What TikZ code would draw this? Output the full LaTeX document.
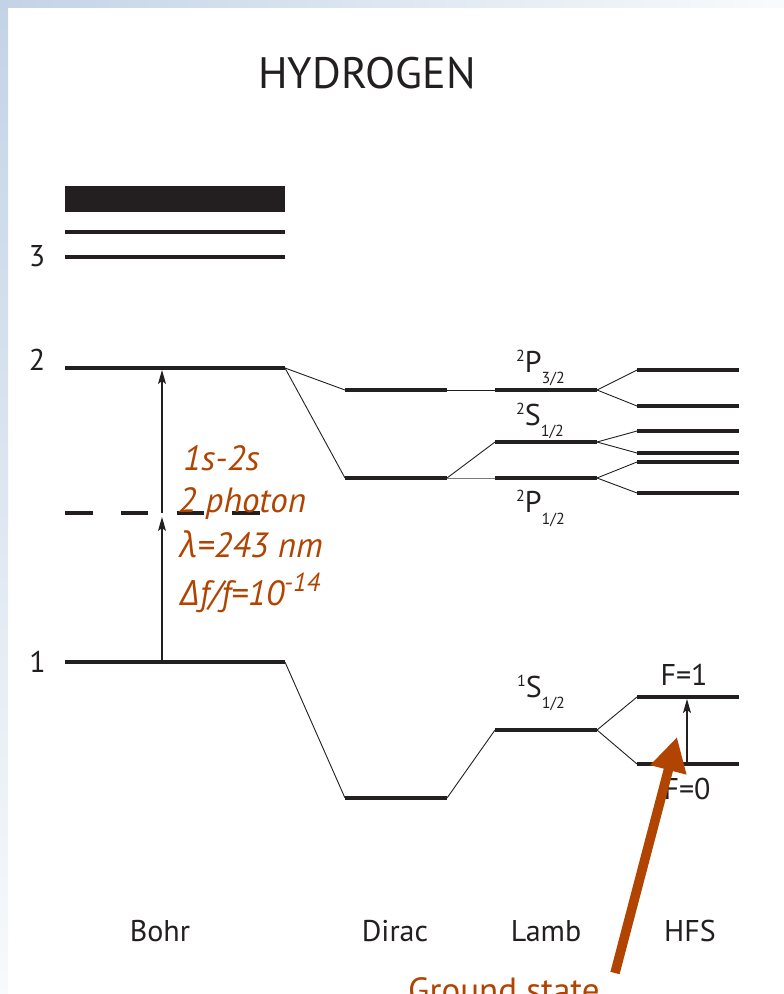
\documentclass[tikz,border=0pt]{standalone}
\usepackage{fontspec}
\setmainfont{PT Sans}
\newfontfamily\grk{Open Sans}
\usetikzlibrary{arrows.meta}
\definecolor{orng}{RGB}{176,68,0}
\definecolor{bgblue}{RGB}{195,211,230}
\definecolor{ink}{RGB}{35,31,32}
\newcommand\mklevel[4]{%
  \coordinate (#1-l) at (#2,#4);
  \coordinate (#1-r) at (#3,#4);
}
\begin{document}
\begin{tikzpicture}[x=1pt,y=-1pt,
  lvl/.style={line width=3.3pt, draw=ink},
  conn/.style={line width=0.9pt, draw=ink},
  lbl/.style={font=\fontsize{30}{30}\selectfont, text=ink, anchor=base, inner sep=0pt},
  sublbl/.style={font=\fontsize{30}{30}\selectfont, text=ink, anchor=base west, inner sep=0pt},
  olbl/.style={font=\fontsize{35}{35}\selectfont\itshape, text=orng, anchor=base west, inner sep=0pt},
  thinarrow/.style={line width=1.2pt, draw=ink, -{Stealth[length=14pt,width=8pt,inset=3pt]}},
  bigarrow/.style={line width=9.5pt, draw=orng, -{Triangle[length=34pt,width=35pt]}}
]
\useasboundingbox (0,0) rectangle (784,994);
% background
\fill[white] (0,0) rectangle (784,994);
\shade[top color=bgblue, bottom color=bgblue!12] (0,0) rectangle (8,994);
\shade[left color=bgblue, right color=bgblue!10] (0,0) rectangle (784,7);
\fill[bgblue] (0,0) rectangle (8,7);

% level coordinates
\mklevel{B3c}{65}{285}{232}
\mklevel{B3}{65}{285}{257}
\mklevel{B2}{65}{285}{368}
\mklevel{Bd}{65}{260}{513}
\mklevel{B1}{65}{285}{662}
\mklevel{D2u}{345}{447}{390}
\mklevel{D2l}{345}{447}{478}
\mklevel{D1}{345}{447}{798}
\mklevel{Lp3}{495}{597}{390}
\mklevel{Ls}{495}{597}{442}
\mklevel{Lp1}{495}{597}{478}
\mklevel{L1}{495}{597}{730}
\mklevel{H1}{637}{739}{370}
\mklevel{H2}{637}{739}{406}
\mklevel{H3}{637}{739}{431}
\mklevel{H4}{637}{739}{453}
\mklevel{H5}{637}{739}{462}
\mklevel{H6}{637}{739}{493}
\mklevel{F1}{637}{739}{697}
\mklevel{F0}{637}{739}{764}

% connectors
\draw[conn] (B2-r) -- (D2u-l);
\draw[conn] (B2-r) -- (D2l-l);
\draw[conn] (B1-r) -- (D1-l);
\draw[conn] (D2u-r) -- (Lp3-l);
\draw[conn] (D2l-r) -- (Ls-l);
\draw[conn, draw=ink!60] (D2l-r) -- (Lp1-l);
\draw[conn] (D1-r) -- (L1-l);
\draw[conn] (Lp3-r) -- (H1-l);
\draw[conn] (Lp3-r) -- (H2-l);
\draw[conn] (Ls-r) -- (H3-l);
\draw[conn] (Ls-r) -- (H4-l);
\draw[conn] (Lp1-r) -- (H5-l);
\draw[conn] (Lp1-r) -- (H6-l);
\draw[conn] (L1-r) -- (F1-l);
\draw[conn] (L1-r) -- (F0-l);

% levels
\fill[ink] (65,186) rectangle (285,212);
\foreach \n in {B3c,B3,B2,B1,D2u,D2l,D1,Lp3,Ls,Lp1,L1,H1,H2,H3,H4,H5,H6,F1,F0}
  \draw[lvl] (\n-l) -- (\n-r);
\draw[lvl, dash pattern=on 27.5pt off 28.3pt] (Bd-l) -- (Bd-r);

% transition arrows
\coordinate (a1s) at (162,662);
\coordinate (a1e) at (162,517);
\coordinate (a2s) at (162,513);
\coordinate (a2e) at (162,370);
\draw[thinarrow] (a1s) -- (a1e);
\draw[thinarrow] (a2s) -- (a2e);
\coordinate (hs) at (687,764);
\coordinate (he) at (687,699);
\draw[thinarrow] (hs) -- (he);

% title and labels
\node[lbl, font=\fontsize{44}{44}\selectfont] (title) at (367,88) {HYDROGEN};
\node[lbl] (n3) at (37,266) {3};
\node[lbl] (n2) at (37,370) {2};
\node[lbl] (n1) at (37.5,672) {1};
\node[lbl] (bohr) at (160,941) {Bohr};
\node[lbl] (dirac) at (395,941) {Dirac};
\node[lbl] (lamb) at (546,941) {Lamb};
\node[lbl] (hfs) at (690,941) {HFS};

\newcommand\sm{\fontsize{16}{16}\selectfont}
\node[sublbl] (p32) at (516,372) {\raisebox{11pt}{\sm 2}P\raisebox{-11pt}{\sm 3/2}};
\node[sublbl] (s12) at (516,425) {\raisebox{11pt}{\sm 2}S\raisebox{-11pt}{\sm 1/2}};
\node[sublbl] (p12) at (516,512) {\raisebox{11pt}{\sm 2}P\raisebox{-12pt}{\sm 1/2}};
\node[sublbl] (s1) at (517,697) {\raisebox{11pt}{\sm 1}S\raisebox{-11pt}{\sm 1/2}};
\node[lbl] (f1) at (684,685) {F=1};
\node[lbl] (f0) at (687,799) {F=0};

% orange annotations
\node[olbl] (t1) at (183,470) {1s-2s};
\node[olbl] (t2) at (178,512) {2 photon};
\node[olbl] (t3) at (180,557) {{\grk\itshape λ}=243 nm};
\node[olbl] (t4) at (180,605) {{\grk\itshape Δ}f/f=10\raisebox{14pt}{\fontsize{26}{26}\selectfont -14}};

% big arrow and caption
\coordinate (gs) at (615,973);
\coordinate (gt) at (677,737);
\draw[bigarrow] (gs) -- (gt);
\node[olbl, font=\fontsize{35}{35}\selectfont\upshape] (gcap) at (408,1002) {Ground state};
\end{tikzpicture}
\end{document}
